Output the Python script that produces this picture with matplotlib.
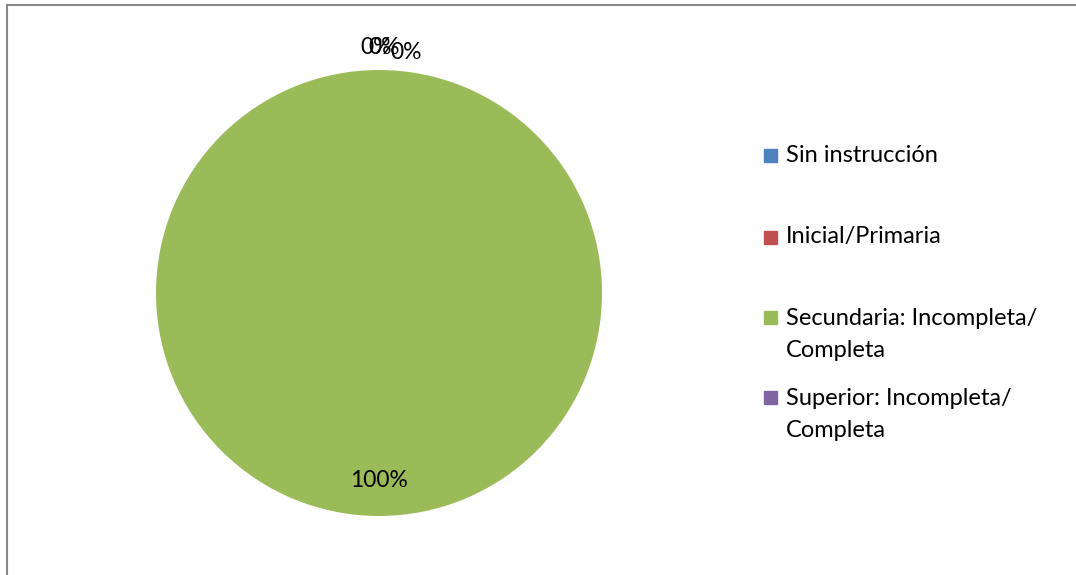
import matplotlib
matplotlib.use("Agg")
import matplotlib.pyplot as plt
from matplotlib.lines import Line2D
from matplotlib.patches import Rectangle
import numpy as np

plt.rcParams['font.family'] = ['Lato', 'DejaVu Sans']

categories = ["Sin instrucción", "Inicial/Primaria",
              "Secundaria: Incompleta/\nCompleta", "Superior: Incompleta/\nCompleta"]
values = [0, 0, 100, 0]
colors = ["#4F81BD", "#C0504D", "#9BBB59", "#8064A2"]

W, H = 1076, 575
fig = plt.figure(figsize=(W / 100, H / 100), dpi=100)

# pie centred at (379, 293) px with radius 223 px
cx, cy, r = 379, 293, 223
lim = 1.12
side = 2 * lim * r
ax = fig.add_axes([(cx - side / 2) / W, (H - cy - side / 2) / H, side / W, side / H])
wedges, _ = ax.pie(values, colors=colors, startangle=90, counterclock=False,
                   radius=1, wedgeprops=dict(linewidth=0))
ax.set_xlim(-lim, lim)
ax.set_ylim(-lim, lim)
ax.set_aspect('equal')
ax.axis('off')

# percentage labels; empty slices pile up at the top
total = sum(values)
zero_nudge = [(-3, 0), (5, 0), (27, -5)]
k = 0
for w, v in zip(wedges, values):
    mid = np.deg2rad((w.theta1 + w.theta2) / 2)
    txt = f"{v / total:.0%}"
    if v == 0:
        dx, dy = zero_nudge[k]
        k += 1
        ax.annotate(txt, (0, 1.10), xytext=(dx * 0.72, dy * 0.72), textcoords='offset points',
                    ha='center', va='center', fontsize=16.5)
    else:
        ax.text(0.84 * np.cos(mid), 0.84 * np.sin(mid), txt,
                ha='center', va='center', fontsize=16.5)

# legend entries
leg_y = [155, 237, 317, 397]
for lab, col, y in zip(categories, colors, leg_y):
    fig.patches.append(Rectangle((764 / W, (H - y - 7) / H), 13 / W, 13 / H,
                                 transform=fig.transFigure, color=col))
    if '\n' in lab:
        fig.text(786 / W, (H - y + 9) / H, lab, ha='left', va='top',
                 fontsize=17, linespacing=1.62)
    else:
        fig.text(786 / W, (H - y) / H, lab, ha='left', va='center', fontsize=17)

# chart area border
fig.add_artist(Line2D([7 / W, 1], [1 - 5 / H, 1 - 5 / H], color="#898989", lw=1.5))
fig.add_artist(Line2D([7 / W, 7 / W], [0, 1 - 5 / H], color="#898989", lw=1.5))

fig.savefig("out.png", dpi=100)
